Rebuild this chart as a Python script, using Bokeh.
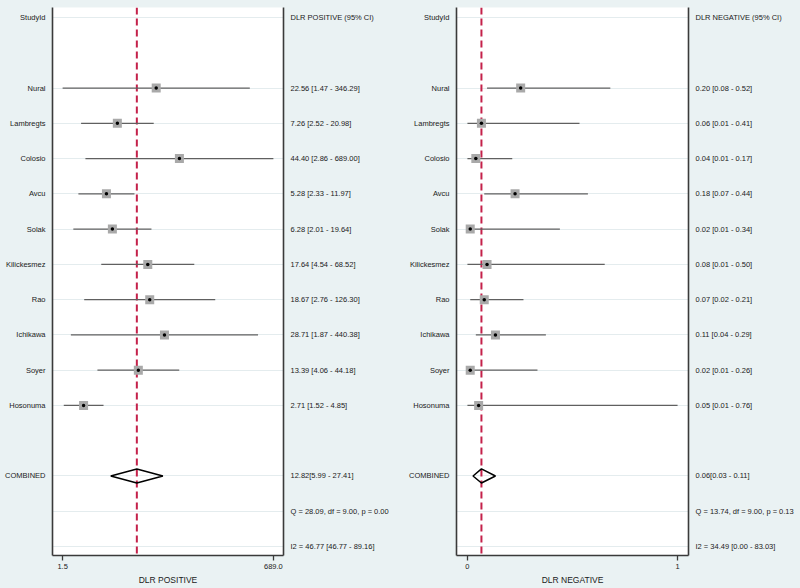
import math
from bokeh.plotting import figure
from bokeh.layouts import row
from bokeh.models import (Range1d, FixedTicker, PrintfTickFormatter, LinearAxis, Span)
from bokeh.embed import file_html
from bokeh.resources import INLINE

# ---------------- data ----------------
studies = ["Nural", "Lambregts", "Colosio", "Avcu", "Solak",
           "Kilickesmez", "Rao", "Ichikawa", "Soyer", "Hosonuma"]

pos_est = [22.56, 7.26, 44.40, 5.28, 6.28, 17.64, 18.67, 28.71, 13.39, 2.71]
pos_lo = [1.47, 2.52, 2.86, 2.33, 2.01, 4.54, 2.76, 1.87, 4.06, 1.52]
pos_hi = [346.29, 20.98, 689.00, 11.97, 19.64, 68.52, 126.30, 440.38, 44.18, 4.85]
pos_comb = [12.82, 5.99, 27.41]          # estimate, lower, upper
pos_q = [28.09, 9.00, 0.00]              # Q, df, p
pos_i2 = [46.77, 46.77, 89.16]

neg_est = [0.20, 0.06, 0.04, 0.18, 0.02, 0.08, 0.07, 0.11, 0.02, 0.05]
neg_lo = [0.08, 0.01, 0.01, 0.07, 0.01, 0.01, 0.02, 0.04, 0.01, 0.01]
neg_hi = [0.52, 0.41, 0.17, 0.44, 0.34, 0.50, 0.21, 0.29, 0.26, 0.76]
neg_comb = [0.06, 0.03, 0.11]
neg_q = [13.74, 9.00, 0.13]
neg_i2 = [34.49, 0.00, 83.03]

# ---------------- style ----------------
BG = "#EAF2F3"
AXC = "#3a3a3a"
FONT = "Liberation Sans"
FS = "7.5px"
DASH_C = "#C4214A"

study_rows = list(range(2, 2 + len(studies)))
comb_row = study_rows[-1] + 2
q_row = comb_row + 1
i2_row = comb_row + 2


def make_panel(title, est, lo, hi, comb, q, i2, log, width, mb_left, mb_right, fmt):
    tmin, tmax = min(lo), max(hi)
    if log:
        a, b = math.log(tmin), math.log(tmax)
        pad = 0.048 * (b - a)
        xr = Range1d(math.exp(a - pad), math.exp(b + pad))
    else:
        pad = 0.052 * (tmax - tmin)
        xr = Range1d(tmin - pad, tmax + pad)
    yr = Range1d(i2_row + 0.255, -0.284)

    p = figure(width=width, height=588, x_range=xr, y_range=yr,
               x_axis_type="log" if log else "linear",
               output_backend="svg", toolbar_location=None,
               min_border_left=mb_left, min_border_right=mb_right,
               min_border_top=7, min_border_bottom=33)
    p.background_fill_color = "white"
    p.border_fill_color = BG
    p.outline_line_color = None
    p.xgrid.visible = False

    # grid lines at each row
    all_rows = [0] + study_rows + [comb_row, q_row, i2_row]
    p.ygrid.ticker = FixedTicker(ticks=all_rows)
    p.ygrid.grid_line_color = "#E4ECEE"
    p.ygrid.grid_line_width = 1

    # left axis: study names
    yl = p.yaxis[0]
    yl.ticker = FixedTicker(ticks=[0] + study_rows + [comb_row])
    ov = {0: "StudyId", comb_row: "COMBINED"}
    for r, s in zip(study_rows, studies):
        ov[r] = s
    yl.major_label_overrides = ov

    # right axis: CI texts
    yrx = LinearAxis(ticker=FixedTicker(ticks=all_rows))
    ov2 = {0: f"{title} (95% CI)"}
    for r, e, l, h in zip(study_rows, est, lo, hi):
        ov2[r] = f"{e:.2f} [{l:.2f} - {h:.2f}]"
    ov2[comb_row] = f" {comb[0]:.2f}[{comb[1]:.2f} - {comb[2]:.2f}]"
    ov2[q_row] = f"Q = {q[0]:.2f}, df = {q[1]:.2f}, p =  {q[2]:.2f}"
    ov2[i2_row] = f"I2 = {i2[0]:.2f} [{i2[1]:.2f} - {i2[2]:.2f}]"
    yrx.major_label_overrides = ov2
    p.add_layout(yrx, "right")

    for ax in (yl, yrx):
        ax.axis_line_color = AXC
        ax.axis_line_width = 1.6
        ax.major_tick_line_color = None
        ax.major_tick_out = 0
        ax.major_tick_in = 0
        ax.minor_tick_line_color = None
        ax.minor_tick_out = 0
        ax.major_label_standoff = 7
        ax.major_label_text_font = FONT
        ax.major_label_text_font_size = FS
        ax.major_label_text_color = "#1a1a1a"

    # bottom axis
    xa = p.xaxis[0]
    xa.ticker = FixedTicker(ticks=[tmin, tmax])
    xa.formatter = PrintfTickFormatter(format=fmt)
    xa.axis_label = title
    xa.axis_label_text_font = FONT
    xa.axis_label_text_font_size = "8.5px"
    xa.axis_label_text_font_style = "normal"
    xa.axis_label_text_color = "#1a1a1a"
    xa.axis_label_standoff = 3
    xa.axis_line_color = AXC
    xa.axis_line_width = 1.6
    xa.major_tick_line_color = AXC
    xa.major_tick_line_width = 1.3
    xa.major_tick_out = 5
    xa.major_tick_in = 0
    xa.minor_tick_line_color = None
    xa.minor_tick_out = 0
    xa.major_label_standoff = 3
    xa.major_label_text_font = FONT
    xa.major_label_text_font_size = FS
    xa.major_label_text_color = "#1a1a1a"

    # reference dashed line at combined estimate
    p.add_layout(Span(location=comb[0], dimension="height", line_color=DASH_C,
                      line_width=2, line_dash="7 4", level="underlay"))

    # CI lines, boxes and dots
    p.segment(x0=lo, y0=study_rows, x1=hi, y1=study_rows,
              line_color="#606060", line_width=1.3)
    p.scatter(x=est, y=study_rows, marker="square", size=9,
              fill_color="#A9A9A9", line_color=None)
    p.scatter(x=est, y=study_rows, marker="circle", size=3.5,
              fill_color="black", line_color=None)

    # combined diamond
    h = 0.2
    p.patch(x=[comb[1], comb[0], comb[2], comb[0], comb[1]],
            y=[comb_row, comb_row - h, comb_row, comb_row + h, comb_row],
            fill_color=None, line_color="black", line_width=1.5)
    return p


left = make_panel("DLR POSITIVE", pos_est, pos_lo, pos_hi, pos_comb, pos_q, pos_i2,
                  True, 400, 52, 117, "%.1f")
right = make_panel("DLR NEGATIVE", neg_est, neg_lo, neg_hi, neg_comb, neg_q, neg_i2,
                   False, 400, 56, 112, "%.0f")

layout = row(left, right, spacing=0, styles={"background-color": BG})
open("out.html", "w").write(file_html(layout, INLINE))
